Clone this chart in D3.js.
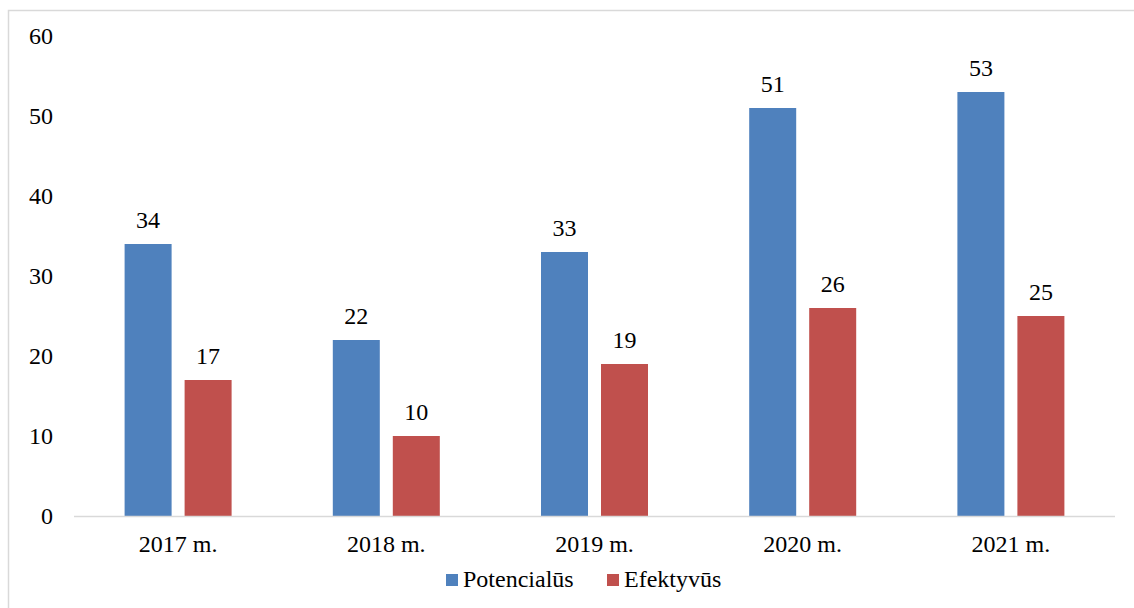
<!DOCTYPE html>
<html><head><meta charset="utf-8">
<script src="https://cdn.jsdelivr.net/npm/d3@7"></script>
<style>body{margin:0;background:#fff}svg{display:block}</style>
</head><body>
<svg id="c" width="1134" height="608" font-family="'Liberation Serif', 'Times New Roman', serif"></svg>
<script>
const categories = ["2017 m.","2018 m.","2019 m.","2020 m.","2021 m."];
const seriesNames = ["Potencialūs","Efektyvūs"];
const potencialus = [34,22,33,51,53];
const efektyvus = [17,10,19,26,25];
const yTicks = [0,10,20,30,40,50,60];
const colors = ["#4F81BD","#C0504D"];

(function(){
const FS = "24px";
const svg = d3.select("#c");
svg.append("rect").attr("x",8.5).attr("y",10.5).attr("width",1134).attr("height",610)
  .attr("fill","none").attr("stroke","#d9d9d9").attr("stroke-width",1.5);

const pLeft = 74, pRight = 1115, pTop = 36, pBottom = 516;
const x = d3.scaleBand().domain(categories).range([pLeft,pRight]).paddingInner(0).paddingOuter(0);
const y = d3.scaleLinear().domain([0,60]).range([pBottom,pTop]);
const barW = 47, gap = 13;
const x1 = d3.scaleBand().domain(seriesNames).range([-(barW+gap/2), barW+gap/2]).paddingInner(gap/(barW+gap)).paddingOuter(0);

const data = categories.map((c,i)=>({c, vals:[potencialus[i],efektyvus[i]]}));
const g = svg.selectAll("g.cat").data(data).join("g").attr("class","cat")
  .attr("transform",d=>`translate(${x(d.c)+x.bandwidth()/2},0)`);
g.selectAll("rect").data(d=>d.vals.map((v,j)=>({v,s:seriesNames[j],j}))).join("rect")
  .attr("x",d=>x1(d.s)).attr("width",x1.bandwidth())
  .attr("y",d=>y(d.v)).attr("height",d=>pBottom-y(d.v)).attr("fill",d=>colors[d.j]);
g.selectAll("text.lbl").data(d=>d.vals.map((v,j)=>({v,s:seriesNames[j],j}))).join("text").attr("class","lbl")
  .attr("x",d=>x1(d.s)+x1.bandwidth()/2).attr("y",d=>y(d.v)-16)
  .attr("text-anchor","middle").attr("font-size",FS).attr("fill","#000").text(d=>d.v);

svg.append("line").attr("x1",pLeft).attr("x2",pRight).attr("y1",pBottom+0.5).attr("y2",pBottom+0.5)
  .attr("stroke","#d9d9d9").attr("stroke-width",1.5);
svg.selectAll("text.xl").data(categories).join("text").attr("class","xl")
  .attr("x",d=>x(d)+x.bandwidth()/2).attr("y",552).attr("text-anchor","middle")
  .attr("font-size",FS).attr("fill","#000").text(d=>d);
svg.selectAll("text.yl").data(yTicks).join("text").attr("class","yl")
  .attr("x",53).attr("y",d=>y(d)+8).attr("text-anchor","end")
  .attr("font-size",FS).attr("fill","#000").text(d=>d);

const lg = svg.append("g");
const legX = [446,607];
seriesNames.forEach((s,i)=>{
  lg.append("rect").attr("x",legX[i]).attr("y",574).attr("width",12).attr("height",12).attr("fill",colors[i]);
  lg.append("text").attr("x",legX[i]+17).attr("y",587).attr("font-size",FS).attr("fill","#000").text(s);
});
})();
</script>
</body></html>
